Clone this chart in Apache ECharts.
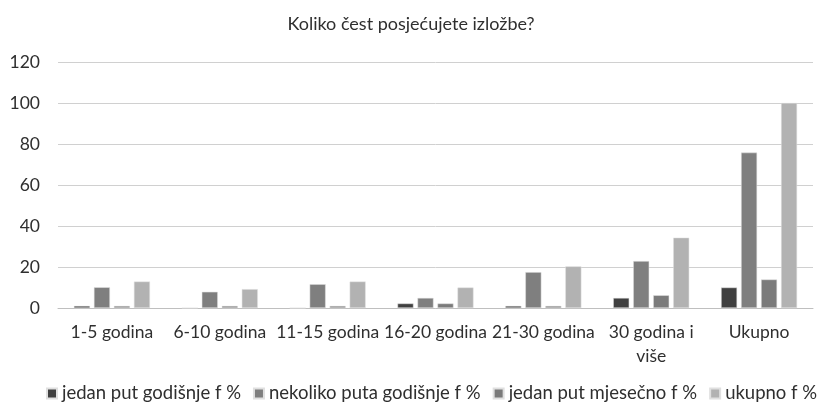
<!DOCTYPE html>
<html><head><meta charset="utf-8">
<script src="https://cdn.jsdelivr.net/npm/echarts@6/dist/echarts.min.js"></script>
<style>html,body{margin:0;padding:0;background:#fff}#c{width:822px;height:412px}</style>
</head><body><div id="c"></div>
<script>
const categories = ['1-5 godina','6-10 godina','11-15 godina','16-20 godina','21-30 godina','30 godina i\nviše','Ukupno'];
const seriesNames = ['jedan put godišnje f %','nekoliko puta godišnje f %','jedan put mjesečno f %','ukupno f %'];
const jedanPutGodisnje = [1, 0, 0, 2.2, 1, 4.9, 10];
const nekolikoPutaGodisnje = [10.1, 7.9, 11.6, 4.9, 17.5, 22.9, 75.8];
const jedanPutMjesecno = [1, 1, 1, 2.2, 1, 6.2, 13.9];
const ukupno = [12.9, 9.2, 12.9, 10.0, 20.3, 34.3, 100];
const yTicks = [0, 20, 40, 60, 80, 100, 120];

const colors = ['#404040','#7f7f7f','#7b7b7b','#b2b2b2'];
const font = 'Lato';
const txt = '#2f2f2f';
const data = [jedanPutGodisnje, nekolikoPutaGodisnje, jedanPutMjesecno, ukupno];
const chart = echarts.init(document.getElementById('c'));
chart.setOption({
  animation: false,
  color: colors,
  title: {text: 'Koliko čest posjećujete izložbe?', left: 'center', top: 10,
    textStyle: {fontFamily: font, fontSize: 18, fontWeight: 'normal', color: txt}},
  legend: {bottom: 9, left: 46, width: 776, padding: 0, itemWidth: 10, itemHeight: 10, itemGap: 12,
    icon: 'rect', textStyle: {fontFamily: font, fontSize: 18.5, color: txt},
    data: seriesNames},
  grid: {left: 58, right: 9, top: 62, bottom: 104},
  xAxis: {type: 'category', data: categories,
    axisLine: {lineStyle: {color: '#bfbfbf', width: 1}}, axisTick: {show: false},
    axisLabel: {fontFamily: font, fontSize: 17.5, color: txt, margin: 12, lineHeight: 24, interval: 0}},
  yAxis: {type: 'value', min: yTicks[0], max: yTicks[yTicks.length-1], interval: 20,
    axisLine: {show: false}, axisTick: {show: false},
    splitLine: {lineStyle: {color: '#d0d0d0', width: 1}},
    axisLabel: {fontFamily: font, fontSize: 17.5, color: txt, margin: 18}},
  series: seriesNames.map((n, i) => ({
    name: n, type: 'bar', data: data[i], barWidth: 16, barGap: '25%',
    itemStyle: {color: colors[i], borderColor: '#e0e0e0', borderWidth: 0.5}
  }))
});
</script></body></html>
